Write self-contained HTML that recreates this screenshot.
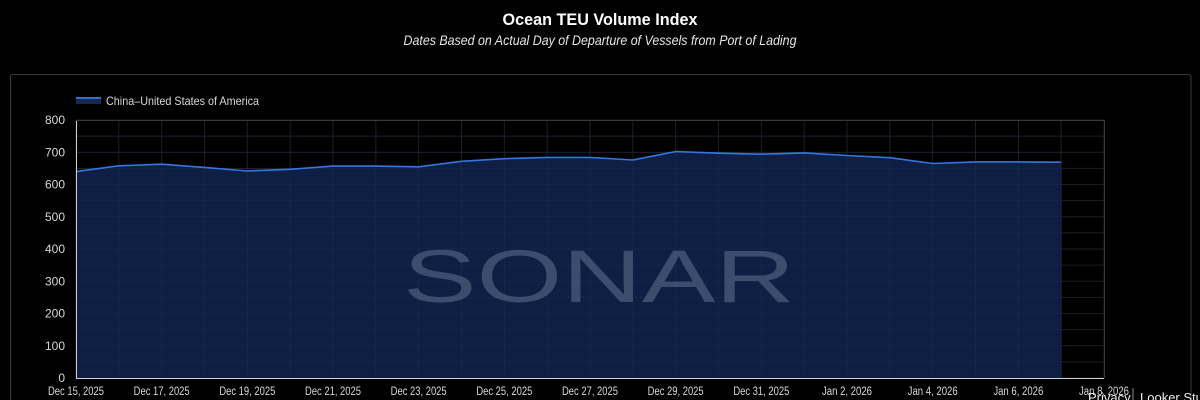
<!DOCTYPE html>
<html><head><meta charset="utf-8">
<style>
html,body{margin:0;padding:0;background:#000;}
svg{display:block;font-family:"Liberation Sans",sans-serif;}
</style></head>
<body>
<svg id="c" width="1200" height="400" viewBox="0 0 1200 400" xmlns="http://www.w3.org/2000/svg">
<rect width="1200" height="400" fill="#000"/>
<text x="600" y="25" text-anchor="middle" fill="#fff" font-weight="bold" font-size="17" textLength="195" lengthAdjust="spacingAndGlyphs">Ocean TEU Volume Index</text>
<text x="600" y="45" text-anchor="middle" fill="#e6e6e6" font-style="italic" font-size="14" textLength="393" lengthAdjust="spacingAndGlyphs">Dates Based on Actual Day of Departure of Vessels from Port of Lading</text>
<path d="M10.5,400 V77 Q10.5,74.5 13,74.5 H1188 Q1191,74.5 1191,77 V400" fill="none" stroke="#3a3a3a" stroke-width="1"/>
<rect x="76" y="97" width="25" height="7" fill="#142850"/>
<rect x="76" y="97" width="25" height="2" fill="#2f6fd6"/>
<text x="106" y="105" fill="#d8d8d8" font-size="12" textLength="153" lengthAdjust="spacingAndGlyphs">China–United States of America</text>
<g id="grid"></g>
<g id="series"></g>
<text x="599" y="302" text-anchor="middle" fill="#6a7a96" fill-opacity="0.5" font-size="74" textLength="392" lengthAdjust="spacingAndGlyphs">SONAR</text>
<g id="axes"></g>
</svg>
<script>
var ns="http://www.w3.org/2000/svg";
function el(p,t,a,txt){var e=document.createElementNS(ns,t);for(var k in a)e.setAttribute(k,a[k]);if(txt!=null)e.textContent=txt;document.getElementById(p).appendChild(e);return e;}
var x0=76,x1=1104,y0=378,yT=120,dx=(x1-x0)/24;
function Y(v){return y0-(y0-yT)*v/800;}
for(var v=0;v<=800;v+=50){el("grid","line",{x1:x0,x2:x1,y1:Y(v),y2:Y(v),stroke:"#1c1f26","stroke-width":1});}
for(var i=0;i<=24;i++){el("grid","line",{x1:x0+i*dx,x2:x0+i*dx,y1:yT,y2:y0,stroke:"#1c1f26","stroke-width":1});}
var d=[640,658,663,653,642,647,657,657,655,672,680,684,684,676,702,697,694,698,690,683,665,670,670,669];
var pts=d.map(function(v,i){return (x0+i*dx).toFixed(1)+","+Y(v).toFixed(1);});
var xl=(x0+23*dx).toFixed(1);
el("series","polygon",{points:x0+","+y0+" "+pts.join(" ")+" "+xl+","+y0,fill:"#0f2147","fill-opacity":"0.95"});
for(var v=50;v<800;v+=50){el("series","line",{x1:x0,x2:xl,y1:Y(v),y2:Y(v),stroke:"#22345a","stroke-width":0.6,"stroke-opacity":0.5});}
for(var i=1;i<=23;i++){el("series","line",{x1:x0+i*dx,x2:x0+i*dx,y1:Y(d[i])+2,y2:y0,stroke:"#22345a","stroke-width":0.6,"stroke-opacity":0.5});}
el("series","polyline",{points:pts.join(" "),fill:"none",stroke:"#3576e0","stroke-width":1.6});
el("axes","line",{x1:x0+0.5,x2:x0+0.5,y1:yT,y2:y0,stroke:"#cfcfcf","stroke-width":1});
el("axes","line",{x1:x0,x2:x1,y1:y0+0.5,y2:y0+0.5,stroke:"#cfcfcf","stroke-width":1});
el("axes","line",{x1:x1+0.5,x2:x1+0.5,y1:yT,y2:y0,stroke:"#3a3a3a","stroke-width":1});
el("axes","line",{x1:x0,x2:x1,y1:yT+0.5,y2:yT+0.5,stroke:"#3a3a3a","stroke-width":1});
for(var v=0;v<=800;v+=100){el("axes","text",{x:65,y:Y(v)+4,"text-anchor":"end",fill:"#d8d8d8","font-size":12},String(v));}
var labs=["Dec 15, 2025","Dec 17, 2025","Dec 19, 2025","Dec 21, 2025","Dec 23, 2025","Dec 25, 2025","Dec 27, 2025","Dec 29, 2025","Dec 31, 2025","Jan 2, 2026","Jan 4, 2026","Jan 6, 2026","Jan 8, 2026"];
labs.forEach(function(s,i){var w=s.length>11?56:50;el("axes","text",{x:x0+2*i*dx,y:395,"text-anchor":"middle",fill:"#d8d8d8","font-size":11.5,textLength:w,lengthAdjust:"spacingAndGlyphs"},s);});
el("axes","text",{x:1088,y:402,fill:"#eee","font-size":13},"Privacy");
el("axes","line",{x1:1133,x2:1133,y1:388,y2:400,stroke:"#888"});
el("axes","text",{x:1140,y:402,fill:"#eee","font-size":13},"Looker Studio");
</script>
</body></html>
